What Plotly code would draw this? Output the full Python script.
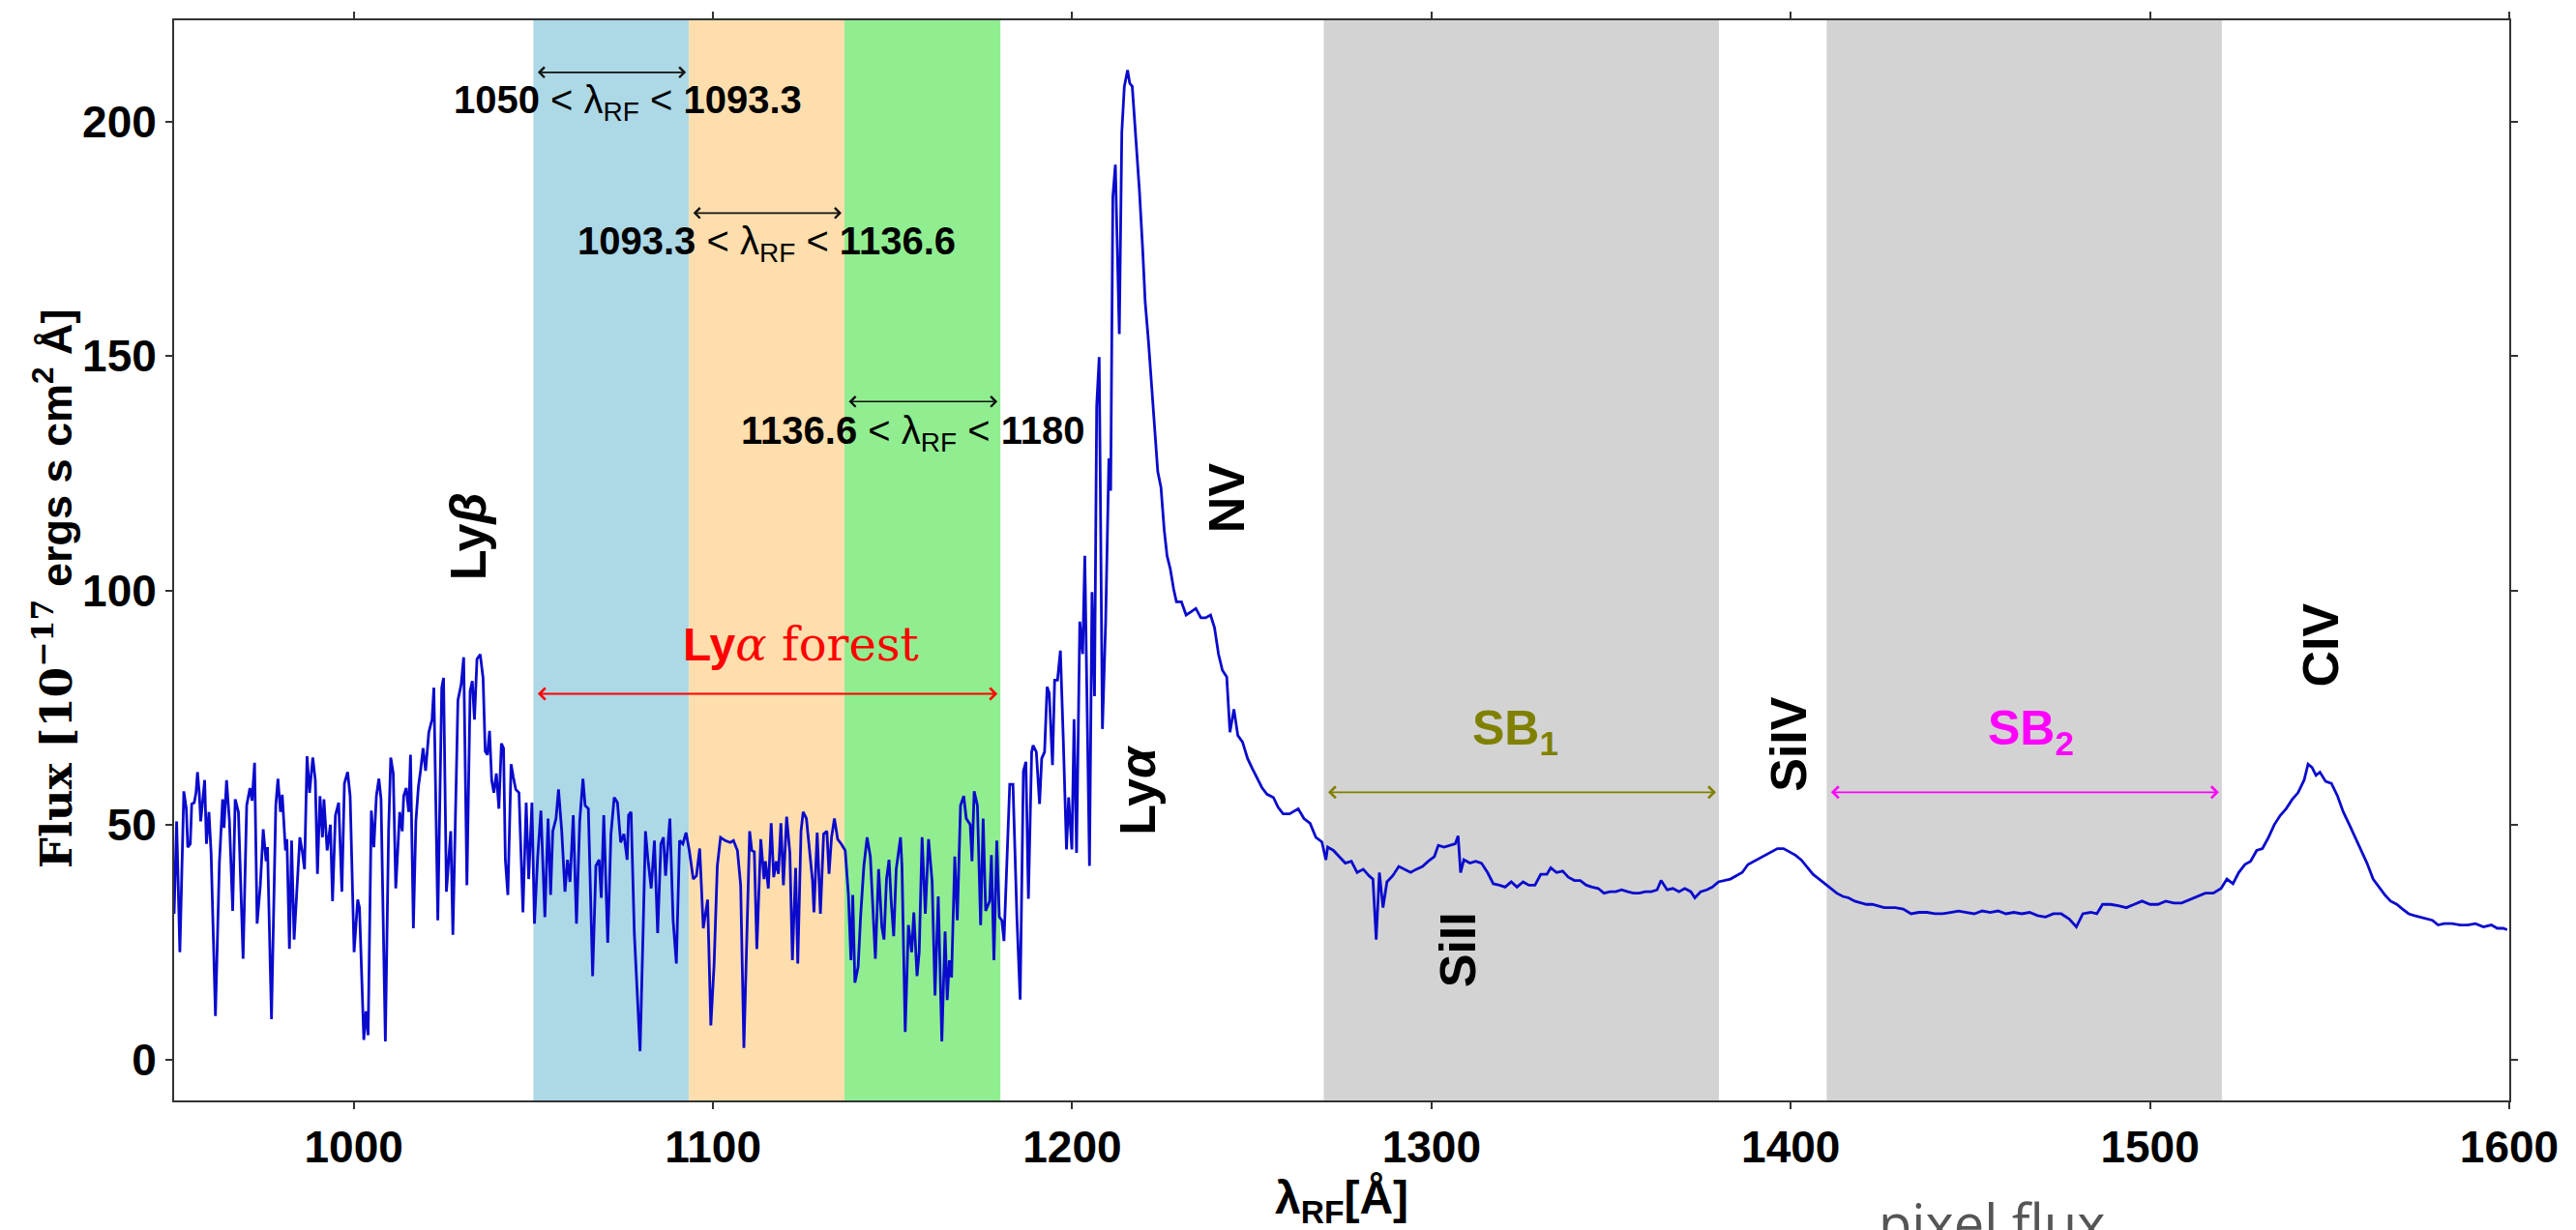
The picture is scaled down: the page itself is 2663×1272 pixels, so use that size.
import plotly.graph_objects as go

# ---------------- data ----------------
wave_a = [950.0, 950.7, 951.6, 952.7, 953.4, 953.8, 954.5, 954.9, 955.6, 956.1,
          956.5, 957.0, 957.4, 958.5, 959.0, 959.7, 960.3, 961.5, 962.6, 963.5,
          963.9, 964.6, 965.4, 966.3, 967.0, 967.9, 969.2, 970.2, 971.1, 971.7,
          972.4, 973.1, 974.0, 974.8, 975.6, 976.0, 977.1, 978.3, 978.9, 979.6,
          980.1, 981.0, 981.4, 982.1, 982.7, 983.4, 984.1, 985.0, 985.7, 986.3,
          987.0, 987.7, 988.6, 989.3, 989.9, 990.6, 991.3, 991.7, 992.6, 993.5,
          994.1, 994.9, 995.8, 996.7, 997.4, 998.3, 999.0, 1000.1, 1001.1, 1001.6,
          1002.8, 1003.4, 1004.0, 1004.9, 1005.6, 1006.3, 1007.0, 1007.6, 1008.8, 1009.7,
          1010.3, 1011.0, 1011.7, 1012.4, 1012.8, 1013.5, 1013.9, 1014.6, 1015.3, 1015.8,
          1016.6, 1017.3, 1018.0, 1018.6, 1019.3, 1020.0, 1020.9, 1021.8, 1022.3, 1023.4,
          1024.5, 1025.0, 1025.8, 1027.0, 1027.6]
flux_a = [31.1, 50.8, 22.9, 57.2, 53.5, 45.3, 46.0, 54.5, 54.8, 56.9,
          61.3, 56.9, 50.8, 59.6, 46.0, 52.8, 44.0, 9.3, 41.9, 55.5,
          49.4, 59.6, 50.8, 31.7, 55.5, 52.8, 21.5, 54.2, 57.9, 55.2,
          63.3, 29.0, 37.2, 49.1, 42.3, 45.3, 8.6, 54.2, 59.9, 52.8,
          56.5, 44.6, 47.0, 23.6, 46.7, 25.6, 35.1, 47.4, 44.3, 40.6,
          64.7, 56.9, 64.4, 59.6, 39.6, 56.2, 47.4, 55.5, 44.6, 50.1,
          33.8, 52.1, 54.8, 35.8, 58.9, 61.3, 56.2, 22.9, 34.1, 32.4,
          4.2, 10.3, 5.2, 53.1, 45.3, 56.2, 59.9, 55.5, 3.9, 48.7,
          64.4, 61.0, 36.5, 47.4, 52.8, 48.7, 56.2, 57.9, 52.8, 65.0,
          28.0, 50.8, 58.2, 61.6, 66.4, 61.6, 69.8, 72.5, 79.3, 29.7,
          79.3, 81.4, 35.8, 48.7, 26.6]

wave_b = [1029.0, 1029.9, 1030.6, 1031.5, 1032.4, 1033.0, 1033.6, 1034.3, 1035.2, 1036.0,
          1036.6, 1037.2, 1037.8, 1038.4, 1039.0, 1039.7, 1040.4, 1041.1, 1041.7, 1042.2,
          1042.9, 1043.8, 1044.4, 1045.1, 1046.0, 1047.1, 1048.0, 1048.7, 1049.6, 1050.3,
          1051.2, 1052.1, 1053.2, 1054.1, 1054.8, 1055.4, 1056.3, 1057.0, 1057.9, 1058.8,
          1059.5, 1060.2, 1061.1, 1062.0, 1062.9, 1063.8, 1064.4, 1065.3, 1066.5, 1067.4,
          1068.3, 1068.9, 1069.6, 1070.7, 1071.6, 1072.5, 1073.4, 1074.3, 1075.2, 1076.1,
          1076.5, 1077.2, 1078.1, 1078.8, 1079.7, 1080.6, 1081.2, 1081.9, 1082.8, 1083.7,
          1084.6, 1085.5, 1086.2, 1086.8, 1088.0, 1088.9, 1089.8, 1090.7, 1091.6, 1092.5,
          1093.4, 1094.5, 1095.4, 1096.3, 1097.3, 1098.5, 1099.4, 1100.3, 1101.2, 1102.1,
          1103.4, 1104.8, 1105.7, 1106.8, 1107.7, 1108.6]
flux_b = [76.6, 80.0, 85.8, 37.2, 78.6, 80.7, 72.5, 85.4, 86.4, 81.4,
          65.7, 65.0, 70.1, 59.6, 56.9, 61.0, 53.5, 67.4, 66.4, 42.6,
          35.1, 63.0, 60.3, 57.6, 56.9, 31.4, 54.8, 38.5, 54.8, 29.0,
          43.3, 53.1, 30.4, 51.4, 35.1, 48.7, 51.4, 57.6, 48.7, 35.8,
          42.6, 37.9, 52.1, 29.0, 50.8, 59.9, 54.2, 53.5, 17.8, 41.3,
          42.6, 34.5, 52.1, 24.9, 48.1, 55.9, 54.8, 46.3, 48.1, 42.6,
          52.1, 52.8, 27.0, 16.1, 1.8, 29.0, 48.7, 42.6, 36.5, 46.7,
          27.0, 46.0, 47.4, 39.2, 51.4, 29.7, 20.5, 46.7, 46.0, 48.4,
          44.6, 38.5, 39.2, 45.0, 28.0, 34.1, 7.3, 20.2, 41.3, 47.4,
          46.7, 46.3, 46.7, 44.6, 37.2, 2.5]

wave_c = [1110.2, 1110.8, 1111.5, 1112.2, 1113.3, 1114.2, 1114.6, 1115.4, 1116.2, 1116.9,
          1117.6, 1118.2, 1118.9, 1119.6, 1120.5, 1121.4, 1122.1, 1123.0, 1123.6, 1124.5,
          1125.1, 1126.0, 1126.9, 1127.7, 1128.1, 1129.0, 1129.9, 1130.8, 1131.7, 1132.3,
          1133.0, 1133.8, 1134.7, 1135.7, 1136.8, 1137.7, 1138.4, 1138.9, 1139.5, 1140.4,
          1141.1, 1142.0, 1142.9, 1143.8, 1145.2, 1146.1, 1147.0, 1147.6, 1148.3, 1149.0,
          1149.6, 1150.3, 1151.0, 1152.2, 1152.6, 1153.5, 1154.4, 1155.3, 1155.9, 1156.8,
          1157.4, 1158.2, 1159.1, 1160.0, 1161.0, 1161.8, 1162.7, 1163.7, 1164.6, 1165.2,
          1165.8, 1166.4, 1167.3, 1168.0, 1168.9, 1169.8, 1170.5, 1171.6, 1172.1, 1172.7,
          1173.6, 1174.5, 1175.2, 1175.9, 1177.0, 1177.5, 1178.2, 1179.0, 1179.7, 1180.4,
          1181.0]
flux_c = [48.7, 44.6, 44.3, 23.6, 47.0, 38.5, 42.3, 36.5, 50.4, 38.9,
          42.3, 39.6, 50.4, 37.2, 51.8, 44.0, 21.2, 40.9, 20.5, 48.7,
          52.8, 51.4, 44.0, 38.2, 31.4, 48.4, 31.1, 48.1, 48.7, 39.6,
          47.4, 51.4, 47.0, 46.0, 44.6, 35.1, 21.2, 35.1, 16.4, 19.8,
          30.7, 41.3, 47.4, 43.3, 21.5, 40.6, 28.3, 25.6, 38.5, 42.6,
          33.8, 26.3, 40.6, 47.4, 41.3, 5.9, 28.7, 22.9, 31.4, 17.8,
          22.9, 47.4, 31.1, 47.0, 37.9, 13.7, 34.8, 3.9, 27.3, 12.7,
          21.2, 17.5, 43.3, 29.7, 54.2, 56.2, 51.4, 50.1, 42.3, 57.2,
          54.2, 28.7, 51.4, 31.7, 33.8, 43.6, 21.2, 46.7, 30.4, 29.7,
          25.3]

wave_d = [1182.6, 1183.5, 1184.6, 1185.5, 1186.4, 1187.1, 1187.8, 1188.7, 1189.1, 1190.0,
          1190.9, 1191.5, 1192.3, 1193.0, 1193.6, 1194.5, 1195.1, 1195.9, 1196.7, 1197.5,
          1198.4, 1199.0, 1199.9, 1200.5, 1201.2, 1202.1, 1202.9, 1203.5, 1204.1, 1204.8,
          1205.5, 1206.2, 1206.8, 1207.5, 1208.4, 1209.3, 1210.2, 1210.7, 1211.3, 1212.0,
          1213.1, 1213.8, 1214.5, 1215.4, 1216.0, 1216.7, 1217.2, 1217.8, 1218.7, 1219.6,
          1220.3, 1221.2, 1222.1, 1222.9, 1223.8, 1224.7, 1225.6, 1226.4, 1227.3, 1228.2,
          1229.0, 1230.4, 1231.7, 1233.1, 1234.4, 1235.8, 1237.1, 1238.5, 1239.6, 1240.7,
          1241.8, 1243.0, 1243.9, 1245.0, 1246.1, 1247.4, 1248.8, 1250.1, 1251.5, 1252.8,
          1254.2, 1256.0, 1257.3, 1258.7, 1260.5]
flux_d = [58.7, 58.7, 30.2, 12.8, 61.5, 63.5, 34.3, 65.6, 67.0, 65.6,
          54.5, 64.2, 65.6, 79.5, 78.1, 62.8, 80.9, 80.9, 87.2, 68.4,
          44.8, 55.9, 44.8, 72.6, 44.1, 93.4, 86.5, 107.4, 78.1, 41.3,
          99.7, 77.5, 139.4, 149.8, 70.5, 93.4, 128.2, 121.3, 183.9, 190.8,
          154.7, 197.8, 207.5, 211.0, 208.2, 207.5, 202.0, 195.7, 185.3, 172.8,
          161.6, 153.3, 143.5, 135.2, 125.4, 122.0, 112.9, 107.4, 104.6, 100.4,
          97.6, 97.6, 94.8, 95.5, 96.2, 94.2, 94.2, 94.8, 92.1, 86.5,
          83.0, 81.6, 69.8, 74.7, 69.1, 67.7, 64.2, 62.1, 60.1, 58.0,
          56.6, 55.9, 53.8, 52.4, 52.4]

wave_e = [1262.9, 1264.5, 1266.2, 1267.8, 1269.5, 1270.6, 1271.1, 1272.7, 1274.4, 1276.0,
          1277.7, 1279.3, 1281.0, 1282.6, 1283.7, 1284.6, 1285.5, 1286.5, 1287.6, 1289.2,
          1290.9, 1292.5, 1294.2, 1295.8, 1297.5, 1299.1, 1300.8, 1301.9, 1303.5, 1305.2,
          1306.6, 1307.4, 1308.1, 1309.0, 1310.7, 1312.3, 1313.9, 1315.6, 1317.2, 1318.9,
          1320.5, 1322.2, 1323.8, 1325.5, 1327.1, 1328.8, 1330.4, 1332.1, 1333.2, 1334.8,
          1336.5, 1338.1, 1339.8, 1341.4, 1343.1, 1344.7, 1346.4, 1348.0, 1349.7, 1351.3,
          1352.9, 1354.6, 1356.2, 1357.9, 1359.5, 1361.2, 1362.8, 1363.9, 1365.6, 1367.2,
          1368.9, 1370.5, 1372.2, 1373.3, 1374.9, 1376.6, 1378.2, 1379.9, 1381.5, 1383.2,
          1384.8, 1386.5, 1388.1, 1389.8, 1391.4, 1393.1, 1394.7, 1396.3, 1398.0, 1399.6,
          1401.3, 1402.9, 1404.6, 1406.2, 1407.9, 1409.5, 1411.2, 1412.8, 1414.5, 1416.1,
          1417.8, 1419.4, 1421.1, 1422.7, 1424.4, 1426.0, 1427.7]
flux_e = [53.5, 51.4, 50.4, 47.4, 46.4, 42.6, 45.3, 44.6, 43.3, 41.9,
          42.3, 39.9, 40.6, 39.2, 38.5, 25.6, 39.9, 32.4, 37.9, 39.2,
          41.2, 40.6, 39.9, 40.6, 41.2, 42.3, 43.3, 45.7, 45.3, 45.7,
          46.0, 47.7, 39.9, 42.6, 41.9, 42.3, 41.9, 39.9, 37.5, 37.2,
          36.8, 37.9, 36.8, 37.9, 37.2, 37.2, 39.5, 39.5, 40.9, 39.9,
          40.2, 38.9, 38.2, 38.2, 37.2, 36.8, 36.5, 35.5, 35.8, 35.8,
          36.2, 35.8, 35.5, 35.5, 35.8, 35.8, 36.2, 38.2, 36.2, 36.5,
          35.8, 36.5, 35.8, 34.5, 35.8, 36.2, 36.8, 37.9, 38.2, 38.5,
          39.2, 39.9, 41.6, 42.3, 42.9, 43.6, 44.3, 45.0, 45.0, 44.3,
          43.6, 42.6, 40.9, 39.5, 38.5, 37.5, 36.5, 35.5, 34.8, 34.5,
          33.8, 33.4, 33.1, 33.1, 32.8, 32.4, 32.4]

wave_f = [1429.1, 1431.3, 1433.5, 1435.7, 1437.9, 1440.1, 1442.3, 1444.5, 1446.7, 1448.9,
          1451.1, 1453.3, 1455.5, 1457.7, 1459.9, 1462.1, 1464.3, 1466.5, 1468.7, 1470.9,
          1473.1, 1475.3, 1477.5, 1479.5, 1481.3, 1483.5, 1485.2, 1486.8, 1489.0, 1491.2,
          1493.4, 1495.6, 1497.8, 1500.0, 1502.2, 1504.4, 1506.6, 1508.8, 1511.0, 1513.2,
          1515.4, 1517.6, 1519.8, 1521.4, 1523.1, 1524.7, 1526.4, 1528.0, 1529.7, 1531.3,
          1533.0, 1534.6, 1536.3, 1537.9, 1539.6, 1541.2, 1542.9, 1544.0, 1545.1, 1546.2,
          1547.3, 1548.9, 1550.5, 1552.2, 1553.8, 1555.5, 1557.1, 1558.8, 1560.4, 1562.1,
          1563.7, 1565.4, 1567.0, 1568.7, 1570.3, 1572.0, 1573.6, 1575.3, 1576.9, 1578.6,
          1580.2, 1581.9, 1584.1, 1586.3, 1588.4, 1590.6, 1592.8, 1595.0, 1596.7, 1598.3,
          1599.4]
flux_f = [32.4, 32.1, 31.1, 31.4, 31.4, 31.1, 31.1, 31.4, 31.7, 31.4,
          31.1, 31.7, 31.4, 31.7, 31.1, 31.4, 31.1, 31.4, 30.7, 30.4,
          31.1, 31.1, 30.0, 28.3, 31.1, 31.4, 31.1, 33.1, 33.1, 32.8,
          32.4, 33.1, 33.8, 33.1, 33.1, 33.8, 33.4, 33.4, 34.1, 34.8,
          35.5, 35.5, 36.5, 38.5, 37.5, 39.9, 41.6, 42.3, 44.6, 45.0,
          47.4, 50.1, 52.1, 53.5, 55.5, 56.9, 59.6, 63.0, 62.3, 60.6,
          61.3, 59.3, 58.9, 56.2, 52.8, 50.1, 47.4, 44.6, 41.9, 38.5,
          36.8, 35.1, 33.8, 33.1, 32.1, 31.1, 30.7, 30.4, 30.0, 29.7,
          28.7, 29.0, 29.0, 28.7, 28.7, 29.0, 28.3, 28.7, 28.0, 28.0,
          27.7]

wave = wave_a + wave_b + wave_c + wave_d + wave_e + wave_f
flux = flux_a + flux_b + flux_c + flux_d + flux_e + flux_f
assert len(wave) == len(flux)

# shaded wavelength windows
band_lo = [1050, 1093.3, 1136.6, 1270, 1410]
band_hi = [1093.3, 1136.6, 1180, 1380, 1520]
band_colors = ["#ADD8E6", "#FFDEAD", "#90EE90", "#D3D3D3", "#D3D3D3"]

# sub-range arrows (top) and their labels
sub_lo = [1050, 1093.3, 1136.6]
sub_hi = [1093.3, 1136.6, 1180]
sub_arrow_y = [210.5, 180.5, 140.3]
sub_text_x = [1076.4, 1115.0, 1155.7]
sub_text_y = [204.0, 174.0, 133.5]
sub_labels = ["1050", "1093.3", "1136.6", "1180"]

# emission line labels (rotated)
line_names = ["Ly<i>β</i>", "NV", "Ly<i>α</i>", "SiII", "SiIV", "CIV"]
line_x = [1031.8, 1242.8, 1218.3, 1307.3, 1399.5, 1547.6]
line_y = [111.6, 119.8, 57.6, 23.4, 67.3, 88.4]

x_ticks = [1000, 1100, 1200, 1300, 1400, 1500, 1600]
y_ticks = [0, 50, 100, 150, 200]

SANS = "Liberation Sans, Arial, sans-serif"
SERIF = "DejaVu Serif, Liberation Serif, serif"

fig = go.Figure()
fig.add_trace(go.Scatter(x=wave, y=flux, mode="lines",
                         line=dict(color="#0A0ACD", width=2.8),
                         showlegend=False, hoverinfo="x+y"))

shapes = []
for lo, hi, col in zip(band_lo, band_hi, band_colors):
    shapes.append(dict(type="rect", xref="x", yref="paper", x0=lo, x1=hi, y0=0, y1=1,
                       fillcolor=col, line=dict(width=0), layer="below"))

annotations = []


def darrow(x0, x1, y, color, width=1.6):
    return dict(x=x1, y=y, ax=x0, ay=y, xref="x", yref="y", axref="x", ayref="y",
                text="", showarrow=True, arrowhead=4, startarrowhead=4,
                arrowside="end+start", arrowsize=1.3, startarrowsize=1.3,
                arrowwidth=width, arrowcolor=color, standoff=3, startstandoff=3)


for i in range(3):
    annotations.append(darrow(sub_lo[i], sub_hi[i], sub_arrow_y[i], "#111111"))
    txt = (f"<b>{sub_labels[i]}</b> < λ<sub>RF</sub> < <b>{sub_labels[i + 1]}</b>")
    annotations.append(dict(x=sub_text_x[i], y=sub_text_y[i], xref="x", yref="y",
                            text=txt, showarrow=False, xanchor="center", yanchor="middle",
                            font=dict(family=SANS, size=40, color="black")))

# Ly-alpha forest
annotations.append(darrow(1050, 1180, 78.0, "#FF0000", 1.8))
annotations.append(dict(x=1124.4, y=88.7, xref="x", yref="y", showarrow=False,
                        text=("<span style='font-family:Liberation Sans'><b>Ly</b></span>"
                              "<i>α</i> forest"),
                        xanchor="center", yanchor="middle",
                        font=dict(family=SERIF, size=48, color="#FF0000")))

# SB1 / SB2
annotations.append(darrow(1270, 1380, 57.0, "#808000", 1.8))
annotations.append(dict(x=1323.3, y=69.9, xref="x", yref="y", showarrow=False,
                        text="<b>SB<sub>1</sub></b>", xanchor="center", yanchor="middle",
                        font=dict(family=SANS, size=50, color="#808000")))
annotations.append(darrow(1410, 1520, 57.0, "#FF00FF", 1.8))
annotations.append(dict(x=1466.8, y=69.9, xref="x", yref="y", showarrow=False,
                        text="<b>SB<sub>2</sub></b>", xanchor="center", yanchor="middle",
                        font=dict(family=SANS, size=50, color="#FF00FF")))

# emission line names
for name, lx, ly in zip(line_names, line_x, line_y):
    annotations.append(dict(x=lx, y=ly, xref="x", yref="y", showarrow=False,
                            text=f"<b>{name}</b>", textangle=-90,
                            xanchor="center", yanchor="middle",
                            font=dict(family=SANS, size=52, color="black")))

# y-axis title (placed to match the reference's offset)
annotations.append(dict(x=-0.052, y=0.474, xref="paper", yref="paper", showarrow=False,
                        text=("<b><span style='font-family:DejaVu Serif'>Flux [10"
                              "<sup>−17</sup></span> ergs s cm<sup>2</sup> Å]</b>"),
                        textangle=-90, xanchor="center", yanchor="middle",
                        font=dict(family=SANS, size=45, color="black")))

# stray caption at the bottom edge (cut off in the reference as well)
annotations.append(dict(x=0.729, y=-0.077, xref="paper", yref="paper", showarrow=False,
                        text="pixel flux", xanchor="left", yanchor="top",
                        font=dict(family="Open Sans, sans-serif", size=56, color="#555555")))

axis_common = dict(showgrid=False, zeroline=False, showline=True, linecolor="#333333",
                   linewidth=2, mirror="ticks", ticks="outside", ticklen=7, tickwidth=1.6,
                   tickcolor="#333333",
                   tickfont=dict(family=SANS, size=46, color="black", weight="bold"))

fig.update_layout(
    width=2663, height=1272,
    margin=dict(l=180, r=69, t=15, b=124),
    paper_bgcolor="white", plot_bgcolor="white",
    shapes=shapes, annotations=annotations,
    xaxis=dict(range=[950, 1600], tickvals=x_ticks, **axis_common,
               title=dict(text="<b>λ<sub>RF</sub>[Å]</b>", standoff=14,
                          font=dict(family=SANS, size=48, color="black"))),
    yaxis=dict(range=[-8.7, 221.6], tickvals=y_ticks, **axis_common),
)

fig.write_html("out.html", config={"displayModeBar": False},
               post_script="document.body.style.margin='0';")
